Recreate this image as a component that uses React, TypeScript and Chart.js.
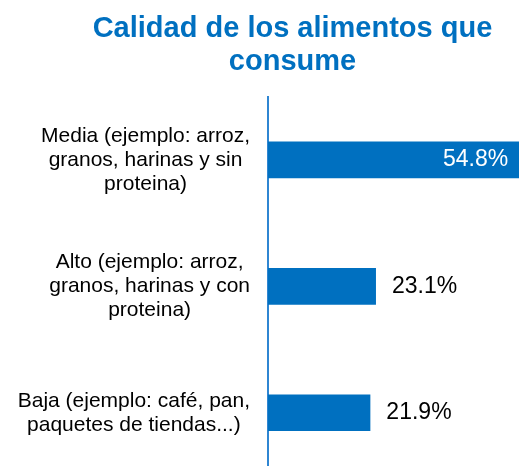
import React, { useEffect, useRef } from "react";
import { Chart, registerables } from "chart.js";

Chart.register(...registerables);

const titleLines = ["Calidad de los alimentos que", "consume"];
const categories: string[][] = [
  ["Media (ejemplo: arroz,", "granos, harinas y sin", "proteina)"],
  ["Alto (ejemplo: arroz,", "granos, harinas y con", "proteina)"],
  ["Baja (ejemplo: café, pan,", "paquetes de tiendas...)"],
];
const values = [54.8, 23.1, 21.9];
const valueLabels = ["54.8%", "23.1%", "21.9%"];

const BAR_COLOR = "#0070C0";
const FONT = "'Liberation Sans', Arial, sans-serif";

const categoryLabelPlugin = {
  id: "categoryLabels",
  afterDraw(chart: any) {
    const ctx = chart.ctx;
    const y = chart.scales.y;
    const fontSize = 21;
    const lineH = 24;
    ctx.save();
    ctx.font = `${fontSize}px ${FONT}`;
    ctx.fillStyle = "#000000";
    ctx.textAlign = "center";
    ctx.textBaseline = "middle";
    categories.forEach((lines, i) => {
      const w = Math.max(...lines.map((l) => ctx.measureText(l).width));
      const cx = y.right - 18 - w / 2;
      const cy = y.getPixelForTick(i);
      const startY = cy - ((lines.length - 1) * lineH) / 2;
      lines.forEach((l, j) => ctx.fillText(l, cx, startY + j * lineH));
    });
    ctx.restore();
  },
};

const valueLabelPlugin = {
  id: "valueLabels",
  afterDatasetsDraw(chart: any) {
    const ctx = chart.ctx;
    const meta = chart.getDatasetMeta(0);
    ctx.save();
    ctx.font = `23px ${FONT}`;
    ctx.textBaseline = "middle";
    meta.data.forEach((bar: any, i: number) => {
      const text = valueLabels[i];
      const tw = ctx.measureText(text).width;
      const off = 16;
      if (bar.x + off + tw > chart.chartArea.right) {
        ctx.fillStyle = "#ffffff";
        ctx.textAlign = "right";
        ctx.fillText(text, bar.x - off, bar.y);
      } else {
        ctx.fillStyle = "#000000";
        ctx.textAlign = "left";
        ctx.fillText(text, bar.x + off, bar.y);
      }
    });
    ctx.restore();
  },
};

export default function App() {
  const ref = useRef<HTMLCanvasElement>(null);
  useEffect(() => {
    if (!ref.current) return;
    const chart = new Chart(ref.current, {
      type: "bar",
      data: {
        labels: categories.map((c) => c.join(" ")),
        datasets: [
          {
            data: values,
            backgroundColor: BAR_COLOR,
            borderWidth: 0,
            categoryPercentage: 1,
            barPercentage: 0.29,
          },
        ],
      },
      options: {
        indexAxis: "y",
        animation: false,
        responsive: false,
        maintainAspectRatio: false,
        layout: { padding: { left: 66, right: 0, top: 0, bottom: 0 } },
        plugins: {
          legend: { display: false },
          tooltip: { enabled: false },
          title: {
            display: true,
            text: titleLines,
            color: BAR_COLOR,
            font: { family: FONT, size: 29, weight: "bold", lineHeight: 1.15 },
            padding: { top: 12, bottom: 18 },
          },
        },
        scales: {
          x: { display: false, min: 0, max: 53.7 },
          y: {
            type: "category",
            grid: { display: false, drawTicks: false },
            border: { display: true, color: "#2F86D2", width: 2 },
            ticks: { display: false },
            afterFit: (s: any) => {
              s.width = 202;
            },
          },
        },
      },
      plugins: [categoryLabelPlugin, valueLabelPlugin],
    });
    return () => chart.destroy();
  }, []);
  return (
    <div
      style={{
        position: "fixed",
        left: 0,
        top: 0,
        width: 519,
        height: 466,
        overflow: "hidden",
        background: "#fff",
      }}
    >
      <canvas ref={ref} width={519} height={476} style={{ display: "block", width: 519, height: 476 }} />
    </div>
  );
}
